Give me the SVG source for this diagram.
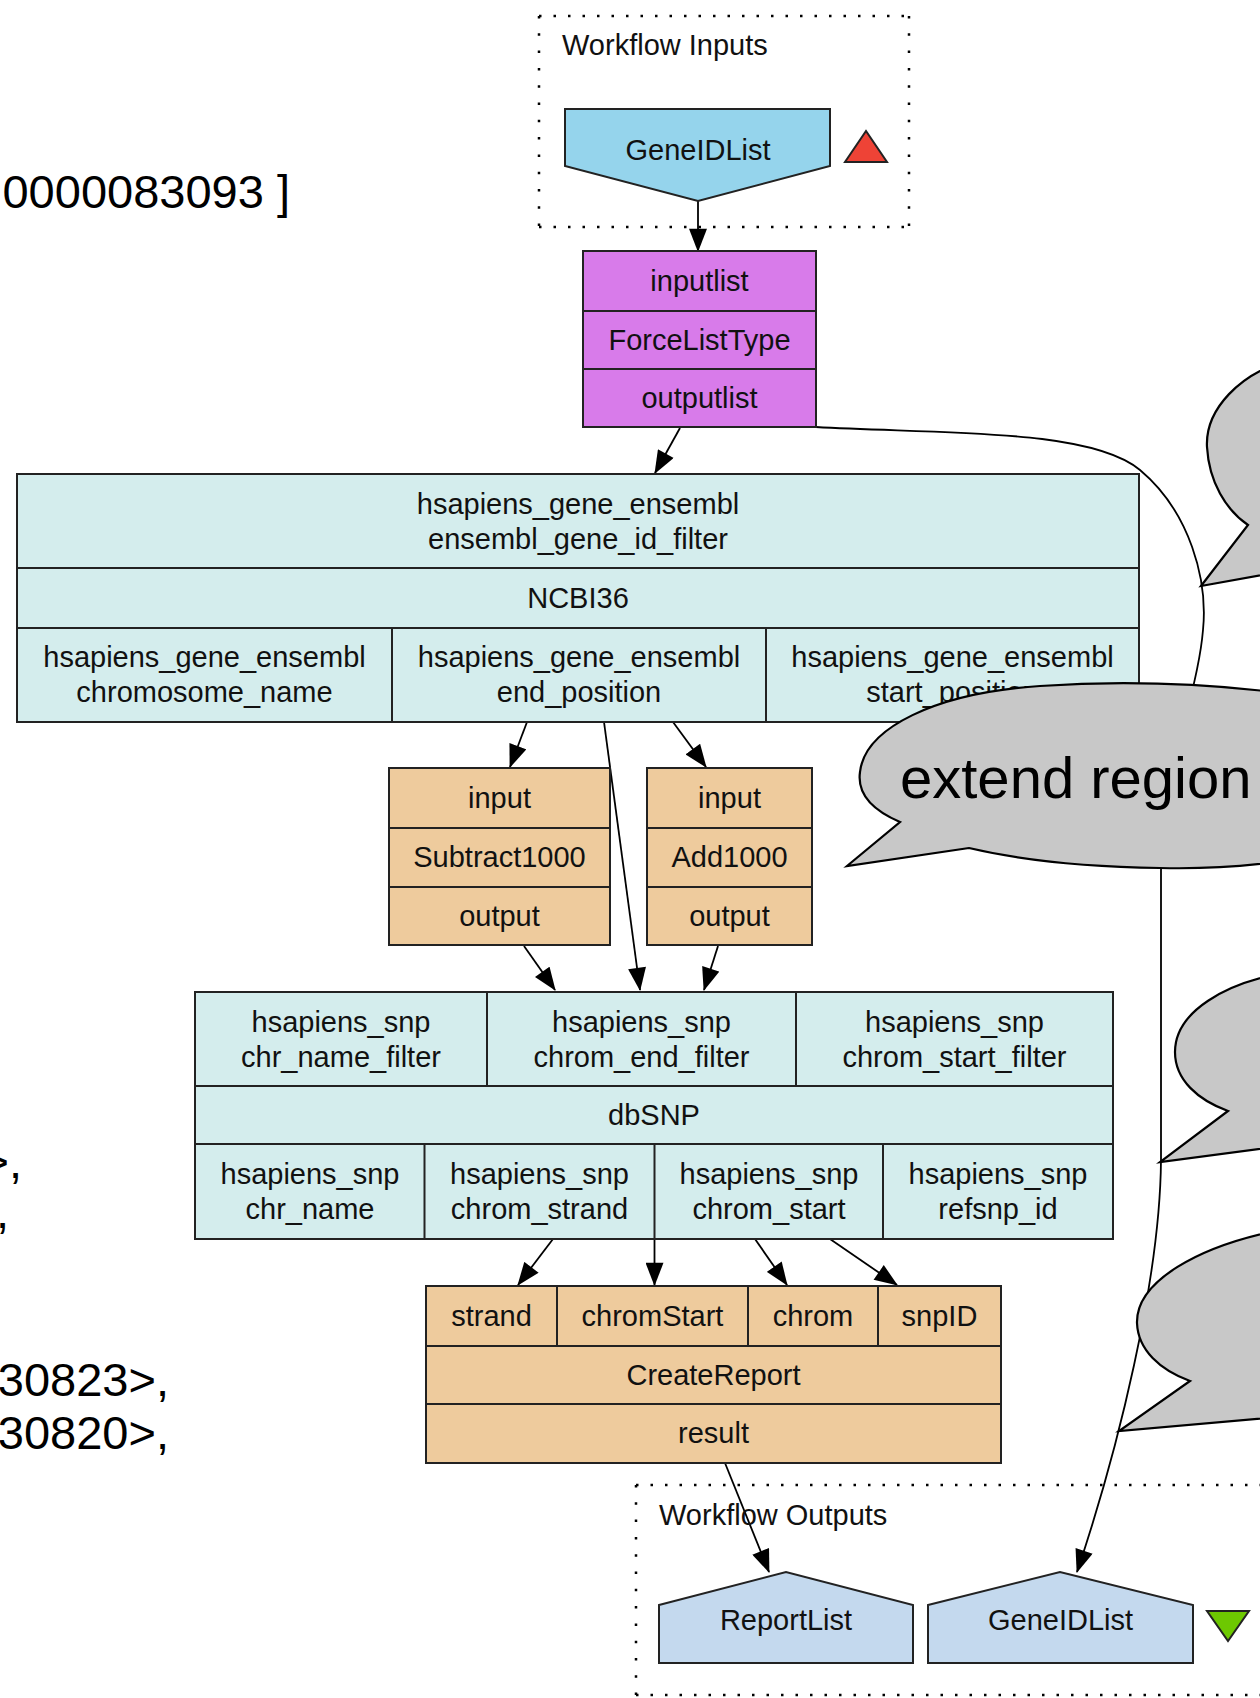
<svg xmlns="http://www.w3.org/2000/svg" width="1260" height="1698" viewBox="0 0 1260 1698">
<defs>
<style>
  text{font-family:"Liberation Sans",Arial,Helvetica,sans-serif;fill:#111}
  .t{font-size:29px;text-anchor:middle}
  .lbl{font-size:29px}
  .big{font-size:47px;fill:#000;text-anchor:end}
  .note{font-size:58px;fill:#000}
  .box{stroke:#222;stroke-width:2}
  .sep{stroke:#222;stroke-width:2;fill:none}
  .cyan{fill:#d4eded}
  .tan{fill:#eecb9d}
  .mag{fill:#d87bea}
  .inp{fill:#95d4ec}
  .out{fill:#c4d9ee}
  .grph{fill:none;stroke:#000;stroke-width:2.5;stroke-dasharray:2.5 12}
  .grpv{fill:none;stroke:#000;stroke-width:2.5;stroke-dasharray:2.5 14.8}
  .edge{fill:none;stroke:#000;stroke-width:1.8;marker-end:url(#arr)}
  .bubble{fill:#c8c8c8;stroke:#000;stroke-width:2.2;stroke-linejoin:miter}
</style>
<marker id="arr" markerUnits="userSpaceOnUse" markerWidth="24" markerHeight="18" viewBox="0 0 22 17" refX="21" refY="8.5" orient="auto">
  <path d="M0,0 L22,8.5 L0,17 Z" fill="#000"/>
</marker>
</defs>
<rect width="1260" height="1698" fill="#fff"/>

<!-- clipped annotation text along the left edge -->
<g id="side-text">
  <text class="big" x="290" y="208">0000083093 ]</text>
  <text class="big" x="22" y="1178">&gt;,</text>
  <text class="big" x="9" y="1228">,</text>
  <text class="big" x="169" y="1396">30823&gt;,</text>
  <text class="big" x="169" y="1449">30820&gt;,</text>
</g>

<!-- connectors -->
<g id="edges">
  <path class="edge" d="M698,201 L698,251"/>
  <path class="edge" d="M680,428 L655,473"/>
  <path class="edge" d="M816,427 C940,434 1090,428 1140,470 C1190,512 1208,580 1203,630 C1198,690 1168,760 1161,870 L1161,1160 C1160,1280 1118,1450 1077,1572"/>
  <path class="edge" d="M527,722 L510,767"/>
  <path class="edge" d="M673,722 L706,767"/>
  <path class="edge" d="M604,722 L640,990"/>
  <path class="edge" d="M524,946 L555,990"/>
  <path class="edge" d="M718,946 L704,990"/>
  <path class="edge" d="M553,1239 L518,1285"/>
  <path class="edge" d="M654.5,1239 L654.5,1285"/>
  <path class="edge" d="M755,1239 L787,1285"/>
  <path class="edge" d="M830,1239 L897,1285"/>
  <path class="edge" d="M725,1463 L769,1572"/>
</g>

<!-- input cluster -->
<g id="workflow-inputs">
  <path class="grph" d="M539,16 H909 M539,227 H909"/>
  <path class="grpv" d="M539,16 V227 M909,16 V227"/>
  <text class="lbl" x="562" y="55">Workflow Inputs</text>
</g>
<g id="in-GeneIDList">
  <polygon class="box inp" points="565,109 830,109 830,166 698,201 565,166"/>
  <text class="t" x="698" y="160">GeneIDList</text>
  <polygon points="845,162 887,162 866,131" fill="#ee4336" stroke="#222" stroke-width="2"/>
</g>

<g id="node-ForceListType">
  <rect class="box mag" x="583" y="251" width="233" height="176"/>
  <path class="sep" d="M583,311 H816 M583,369 H816"/>
  <text class="t" x="699.5" y="290.5">inputlist</text>
  <text class="t" x="699.5" y="350">ForceListType</text>
  <text class="t" x="699.5" y="408">outputlist</text>
</g>

<g id="node-NCBI36">
  <rect class="box cyan" x="17" y="474" width="1122" height="248"/>
  <path class="sep" d="M17,568 H1139 M17,628 H1139 M392,628 V722 M766,628 V722"/>
  <text class="t" x="578" y="514">hsapiens_gene_ensembl</text>
  <text class="t" x="578" y="549">ensembl_gene_id_filter</text>
  <text class="t" x="578" y="608">NCBI36</text>
  <text class="t" x="204.5" y="667">hsapiens_gene_ensembl</text>
  <text class="t" x="204.5" y="702">chromosome_name</text>
  <text class="t" x="579" y="667">hsapiens_gene_ensembl</text>
  <text class="t" x="579" y="702">end_position</text>
  <text class="t" x="952.5" y="667">hsapiens_gene_ensembl</text>
  <text class="t" x="952.5" y="702">start_position</text>
</g>

<g id="node-Subtract1000">
  <rect class="box tan" x="389" y="768" width="221" height="177"/>
  <path class="sep" d="M389,828 H610 M389,887 H610"/>
  <text class="t" x="499.5" y="807.5">input</text>
  <text class="t" x="499.5" y="867">Subtract1000</text>
  <text class="t" x="499.5" y="925.5">output</text>
</g>

<g id="node-Add1000">
  <rect class="box tan" x="647" y="768" width="165" height="177"/>
  <path class="sep" d="M647,828 H812 M647,887 H812"/>
  <text class="t" x="729.5" y="807.5">input</text>
  <text class="t" x="729.5" y="867">Add1000</text>
  <text class="t" x="729.5" y="925.5">output</text>
</g>

<g id="node-dbSNP">
  <rect class="box cyan" x="195" y="992" width="918" height="247"/>
  <path class="sep" d="M195,1086 H1113 M195,1144 H1113 M487,992 V1086 M796,992 V1086 M424.5,1144 V1239 M654.5,1144 V1239 M883,1144 V1239"/>
  <text class="t" x="341" y="1031.5">hsapiens_snp</text>
  <text class="t" x="341" y="1066.5">chr_name_filter</text>
  <text class="t" x="641.5" y="1031.5">hsapiens_snp</text>
  <text class="t" x="641.5" y="1066.5">chrom_end_filter</text>
  <text class="t" x="954.5" y="1031.5">hsapiens_snp</text>
  <text class="t" x="954.5" y="1066.5">chrom_start_filter</text>
  <text class="t" x="654" y="1124.5">dbSNP</text>
  <text class="t" x="310" y="1184">hsapiens_snp</text>
  <text class="t" x="310" y="1219">chr_name</text>
  <text class="t" x="539.5" y="1184">hsapiens_snp</text>
  <text class="t" x="539.5" y="1219">chrom_strand</text>
  <text class="t" x="769" y="1184">hsapiens_snp</text>
  <text class="t" x="769" y="1219">chrom_start</text>
  <text class="t" x="998" y="1184">hsapiens_snp</text>
  <text class="t" x="998" y="1219">refsnp_id</text>
</g>

<g id="node-CreateReport">
  <rect class="box tan" x="426" y="1286" width="575" height="177"/>
  <path class="sep" d="M426,1346 H1001 M426,1404 H1001 M557,1286 V1346 M748,1286 V1346 M878,1286 V1346"/>
  <text class="t" x="491.5" y="1325.5">strand</text>
  <text class="t" x="652.5" y="1325.5">chromStart</text>
  <text class="t" x="813" y="1325.5">chrom</text>
  <text class="t" x="939.5" y="1325.5">snpID</text>
  <text class="t" x="713.5" y="1384.5">CreateReport</text>
  <text class="t" x="713.5" y="1443">result</text>
</g>

<!-- output cluster -->
<g id="workflow-outputs">
  <path class="grph" d="M636,1485 H1336 M636,1695 H1336"/>
  <path class="grpv" d="M636,1485 V1695"/>
  <text class="lbl" x="659" y="1525">Workflow Outputs</text>
</g>
<g id="out-ReportList">
  <polygon class="box out" points="659,1605 786,1572 913,1605 913,1663 659,1663"/>
  <text class="t" x="786" y="1630">ReportList</text>
</g>
<g id="out-GeneIDList">
  <polygon class="box out" points="928,1605 1060,1572 1193,1605 1193,1663 928,1663"/>
  <text class="t" x="1060.5" y="1630">GeneIDList</text>
  <polygon points="1207,1611 1249,1611 1228,1641" fill="#6dc801" stroke="#222" stroke-width="2"/>
</g>

<!-- callout bubbles -->
<g id="callouts">
  <path class="bubble" d="M1290,360 C1240,372 1205,410 1207,447 C1209,482 1226,510 1248,525 L1201,586 L1290,570 Z"/>
  <path class="bubble" d="M969,848 L847,866 L900,822 C872,810 857,793 860,772 C865,728 935,693 1040,686 C1130,680 1220,685 1290,694 L1290,860 C1250,866 1200,869 1160,868 C1090,867 1020,860 969,848 Z"/>
  <text class="note" x="900" y="798">extend region</text>
  <path class="bubble" d="M1290,972 C1225,982 1175,1012 1175,1052 C1175,1080 1198,1100 1228,1111 L1160,1162 L1290,1145 Z"/>
  <path class="bubble" d="M1290,1228 C1195,1245 1136,1283 1137,1323 C1138,1350 1160,1370 1190,1381 L1119,1431 L1290,1416 Z"/>
</g>
</svg>
